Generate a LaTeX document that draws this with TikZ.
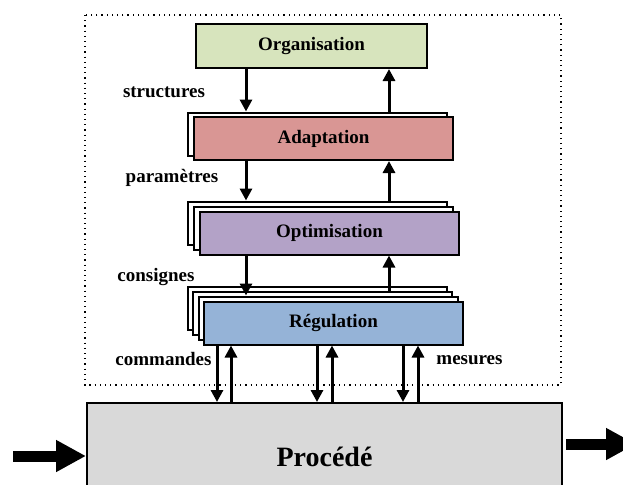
\documentclass[tikz,border=0pt]{standalone}
\usepackage{fontspec}
\setmainfont{Liberation Serif}
\usetikzlibrary{arrows.meta}
\definecolor{vertorg}{HTML}{D7E4BD}
\definecolor{rougeada}{HTML}{D99694}
\definecolor{violetopt}{HTML}{B3A2C7}
\definecolor{bleureg}{HTML}{95B3D7}
\definecolor{grisproc}{HTML}{D9D9D9}
\tikzset{
	bloc/.style={draw, line width=1pt, inner sep=0pt, minimum width=129.5pt, minimum height=21.5pt, font=\bfseries\fontsize{9.5}{11}\selectfont},
	couche/.style={bloc, fill=white},
	fleche/.style={line width=1.5pt, -{Triangle[length=6pt,width=6pt]}},
	grosse/.style={line width=5.5pt, -{Triangle[length=15pt,width=15pt]}},
	etiq/.style={font=\bfseries\fontsize{9.5}{11}\selectfont, inner sep=0pt},
}
\begin{document}
\begin{tikzpicture}[x=0.5pt, y=-0.5pt]
	\clip (0,0) rectangle (623,484);
	% cadre pointille
	\draw[dotted, line width=0.6pt] (85,15) rectangle (561,385);
	% niveaux
	\node[bloc, fill=vertorg, minimum width=115.5pt, minimum height=22pt] (org) at (311.5,46) {Organisation};
	\node[couche] (ada1) at (317.5,134) {};
	\node[bloc, fill=rougeada] (ada) at (323.5,138.5) {Adaptation};
	\foreach \k in {2,1} \node[couche] (opt\k) at (329.5-6*\k,233-5*\k) {};
	\node[bloc, fill=violetopt] (opt) at (329.5,233) {Optimisation};
	\foreach \k in {3,2,1} \node[couche] (reg\k) at (333.5-5.5*\k,323-5*\k) {};
	\node[bloc, fill=bleureg] (reg) at (333.5,323) {Régulation};
	\node[bloc, fill=grisproc, minimum width=237.5pt, minimum height=53.5pt, font=\bfseries\fontsize{14}{16}\selectfont] (proc) at (324.5,456.5) {Procédé};
	% fleches entre niveaux
	\coordinate (xd) at (246,0);
	\coordinate (xu) at (389,0);
	\draw[fleche] (org.south -| xd) -- (ada1.north -| xd);
	\draw[fleche] (ada1.north -| xu) -- (org.south -| xu);
	\draw[fleche] (ada.south -| xd) -- (opt2.north -| xd);
	\draw[fleche] (opt2.north -| xu) -- (ada.south -| xu);
	\draw[fleche] (opt.south -| xd) -- (reg1.north -| xd);
	\draw[fleche] (reg2.north -| xu) -- (opt.south -| xu);
	% commandes / mesures
	\foreach \xa/\xb [count=\i] in {217/231, 317/332, 403/418} {
		\coordinate (cmd\i) at (\xa,0);
		\coordinate (mes\i) at (\xb,0);
		\draw[fleche] (reg.south -| cmd\i) -- (proc.north -| cmd\i);
		\draw[fleche] (proc.north -| mes\i) -- (reg.south -| mes\i);
	}
	% entree / sortie
	\coordinate (entree) at (13,456);
	\coordinate (sortie) at (636,444);
	\draw[grosse] (entree) -- (entree -| proc.west);
	\draw[grosse] ([xshift=1.5pt]proc.east |- sortie) -- (sortie);
	% etiquettes
	\node[etiq] (lstruct) at (164,92) {structures};
	\node[etiq] (lparam) at (172,178) {paramètres};
	\node[etiq] (lcons) at (156,277) {consignes};
	\node[etiq] (lcmd) at (163.5,359) {commandes};
	\node[etiq] (lmes) at (469.5,360) {mesures};
\end{tikzpicture}
\end{document}
